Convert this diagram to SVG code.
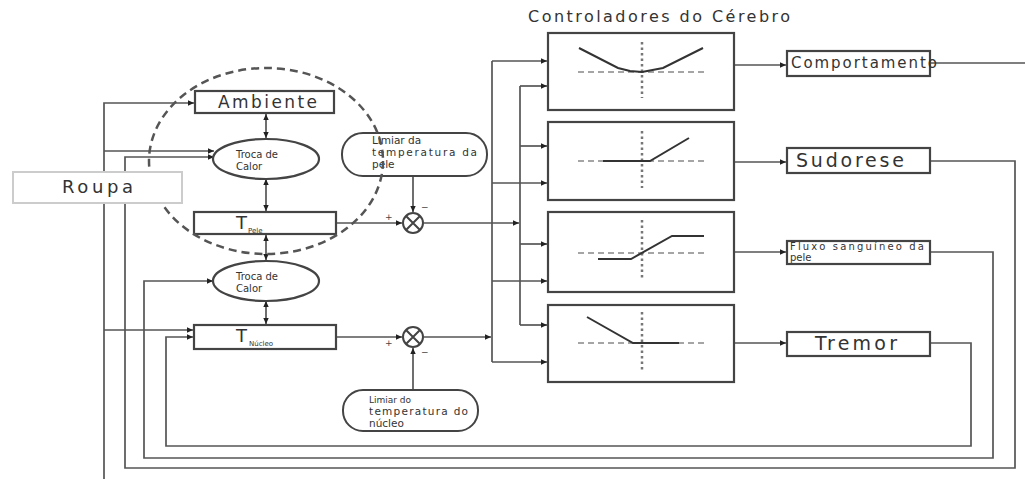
<svg xmlns="http://www.w3.org/2000/svg" width="1025" height="479" viewBox="0 0 1025 479">
<defs>
<marker id="ah" viewBox="0 0 10 10" refX="10" refY="5" markerWidth="8" markerHeight="6" orient="auto-start-reverse" markerUnits="userSpaceOnUse"><path d="M0,0.5 L10,5 L0,9.5 z" fill="#222"/></marker>
</defs>
<style>
.ln{fill:none;stroke:#555;stroke-width:1.7}
.bx{fill:#fff;stroke:#444;stroke-width:2.2}
.gr{fill:none;stroke:#333;stroke-width:2}
.dot{fill:none;stroke:#777;stroke-width:2.5;stroke-dasharray:2.5 3}
.dsh{fill:none;stroke:#888;stroke-width:1.6;stroke-dasharray:6 4}
.t{font-family:"DejaVu Sans","Open Sans",sans-serif;fill:#333}
.pm{font-family:"DejaVu Sans",sans-serif;fill:#444;font-size:9px}
</style>
<rect width="1025" height="479" fill="#fff"/>

<text class="t" x="528" y="22" font-size="16" textLength="262" lengthAdjust="spacing">Controladores do Cérebro</text>

<g id="connectors">
<path class="ln" d="M104,479 V103 H194" marker-end="url(#ah)"/>
<path class="ln" d="M104,151 H214" marker-end="url(#ah)"/>
<path class="ln" d="M104,330 H193" marker-end="url(#ah)"/>
<path class="ln" d="M930,161 H1015 V468 H125 V157 H214" marker-end="url(#ah)"/>
<path class="ln" d="M930,252 H993 V458 H144 V281 H213" marker-end="url(#ah)"/>
<path class="ln" d="M930,343 H971 V446 H166 V337 H193" marker-end="url(#ah)"/>
<path class="ln" d="M930,63 H1025"/>
<path class="ln" d="M266,114 V138" marker-start="url(#ah)" marker-end="url(#ah)"/>
<path class="ln" d="M266,179 V211" marker-start="url(#ah)" marker-end="url(#ah)"/>
<path class="ln" d="M266,235 V260" marker-start="url(#ah)" marker-end="url(#ah)"/>
<path class="ln" d="M266,301 V324" marker-start="url(#ah)" marker-end="url(#ah)"/>
<path class="ln" d="M337,223 H402" marker-end="url(#ah)"/>
<path class="ln" d="M413,176 V212" marker-end="url(#ah)"/>
<path class="ln" d="M424,223 H519" marker-end="url(#ah)"/>
<path class="ln" d="M337,337 H402" marker-end="url(#ah)"/>
<path class="ln" d="M413,390 V348" marker-end="url(#ah)"/>
<path class="ln" d="M424,337 H491" marker-end="url(#ah)"/>
<path class="ln" d="M492,61 V362"/>
<path class="ln" d="M520,86 V325"/>
<path class="ln" d="M492,61 H547" marker-end="url(#ah)"/>
<path class="ln" d="M520,86 H547" marker-end="url(#ah)"/>
<path class="ln" d="M520,146 H547" marker-end="url(#ah)"/>
<path class="ln" d="M492,183 H547" marker-end="url(#ah)"/>
<path class="ln" d="M520,244 H547" marker-end="url(#ah)"/>
<path class="ln" d="M492,281 H547" marker-end="url(#ah)"/>
<path class="ln" d="M520,325 H547" marker-end="url(#ah)"/>
<path class="ln" d="M492,362 H547" marker-end="url(#ah)"/>
<path class="ln" d="M734,65 H786" marker-end="url(#ah)"/>
<path class="ln" d="M734,162 H786" marker-end="url(#ah)"/>
<path class="ln" d="M734,252 H786" marker-end="url(#ah)"/>
<path class="ln" d="M734,343 H786" marker-end="url(#ah)"/>
<text class="pm" x="385" y="220">+</text>
<text class="pm" x="421" y="210">−</text>
<text class="pm" x="385" y="346">+</text>
<text class="pm" x="421" y="355">−</text>
</g>

<g id="ambiente">
<rect class="bx" x="195" y="91" width="139" height="22"/>
<text class="t" x="218" y="108" font-size="17" textLength="99" lengthAdjust="spacing">Ambiente</text>
</g>

<g id="troca1">
<ellipse class="bx" cx="266" cy="159" rx="53" ry="20"/>
<text class="t" x="236" y="158" font-size="10">Troca de</text>
<text class="t" x="236" y="170" font-size="10">Calor</text>
</g>

<g id="tpele">
<rect class="bx" x="194" y="212" width="142" height="22"/>
<text class="t" x="236" y="229" font-size="18" fill="#522">T</text>
<text class="t" x="248" y="233" font-size="7">Pele</text>
</g>

<g id="troca2">
<ellipse class="bx" cx="266" cy="281" rx="53" ry="20"/>
<text class="t" x="236" y="280" font-size="10">Troca de</text>
<text class="t" x="236" y="292" font-size="10">Calor</text>
</g>

<g id="tnucleo">
<rect class="bx" x="194" y="325" width="142" height="24"/>
<text class="t" x="236" y="342" font-size="18">T</text>
<text class="t" x="249" y="346" font-size="7">Núcleo</text>
</g>

<g id="limiar-pele">
<rect x="342" y="133" width="145" height="43" rx="21" fill="none" stroke="#444" stroke-width="2"/>
<text class="t" x="372" y="144" font-size="10.5">Limiar da</text>
<text class="t" x="372" y="156" font-size="10.5" textLength="105" lengthAdjust="spacing">temperatura da</text>
<text class="t" x="372" y="168" font-size="10.5">pele</text>
</g>

<g id="soma-pele">
<circle cx="413" cy="223" r="10" fill="#fff" stroke="#444" stroke-width="2"/>
<path d="M406,216 L420,230 M420,216 L406,230" stroke="#444" stroke-width="2"/>
</g>

<g id="soma-nucleo">
<circle cx="413" cy="337" r="10" fill="#fff" stroke="#444" stroke-width="2"/>
<path d="M406,330 L420,344 M420,330 L406,344" stroke="#444" stroke-width="2"/>
</g>

<g id="limiar-nucleo">
<rect x="343" y="390" width="135" height="41" rx="20" fill="#fff" stroke="#444" stroke-width="2"/>
<text class="t" x="369" y="403" font-size="9" fill="#666">Limiar do</text>
<text class="t" x="369" y="415" font-size="10.5" textLength="99" lengthAdjust="spacing">temperatura do</text>
<text class="t" x="369" y="427" font-size="10.5">núcleo</text>
</g>

<g id="ctrl-comportamento">
<rect class="bx" x="548" y="33" width="186" height="77"/>
<path class="dot" d="M642,42 V98"/>
<path class="dsh" d="M578,72 H707"/>
<path class="gr" d="M579,48 L618,68 L630,71 L642,72 L663,68 L703,48"/>
</g>

<g id="ctrl-sudorese">
<rect class="bx" x="548" y="122" width="186" height="78"/>
<path class="dot" d="M642,131 V188"/>
<path class="dsh" d="M578,161 H707"/>
<path class="gr" d="M603,161 L650,161 L689,138"/>
</g>

<g id="ctrl-fluxo">
<rect class="bx" x="548" y="212" width="186" height="80"/>
<path class="dot" d="M642,220 V280"/>
<path class="dsh" d="M578,253 H707"/>
<path class="gr" d="M598,259 L631,259 L672,236 L704,236"/>
</g>

<g id="ctrl-tremor">
<rect class="bx" x="548" y="305" width="186" height="77"/>
<path class="dot" d="M642,312 V370"/>
<path class="dsh" d="M578,343 H707"/>
<path class="gr" d="M587,317 L633,343 L679,343"/>
</g>

<g id="comportamento">
<rect class="bx" x="787" y="51" width="143" height="25"/>
<text class="t" x="791" y="68" font-size="15" textLength="146" lengthAdjust="spacing">Comportamento</text>
</g>

<g id="sudorese">
<rect class="bx" x="787" y="148" width="143" height="25"/>
<text class="t" x="796" y="167" font-size="19" textLength="108" lengthAdjust="spacing">Sudorese</text>
</g>

<g id="fluxo">
<rect class="bx" x="787" y="241" width="143" height="23"/>
<text class="t" x="790" y="250" font-size="10" textLength="134" lengthAdjust="spacing">Fluxo sanguíneo da</text>
<text class="t" x="790" y="261" font-size="10">pele</text>
</g>

<g id="tremor">
<rect class="bx" x="787" y="332" width="143" height="24"/>
<text class="t" x="815" y="350" font-size="19" textLength="82" lengthAdjust="spacing">Tremor</text>
</g>

<ellipse id="pele-limite" cx="266" cy="161" rx="117" ry="93" fill="none" stroke="#555" stroke-width="2.5" stroke-dasharray="8 5"/>

<g id="roupa">
<rect x="13" y="172" width="169" height="31" fill="#fff" stroke="#ccc" stroke-width="2"/>
<text class="t" x="62" y="193" font-size="18" textLength="71" lengthAdjust="spacing">Roupa</text>
</g>
</svg>
